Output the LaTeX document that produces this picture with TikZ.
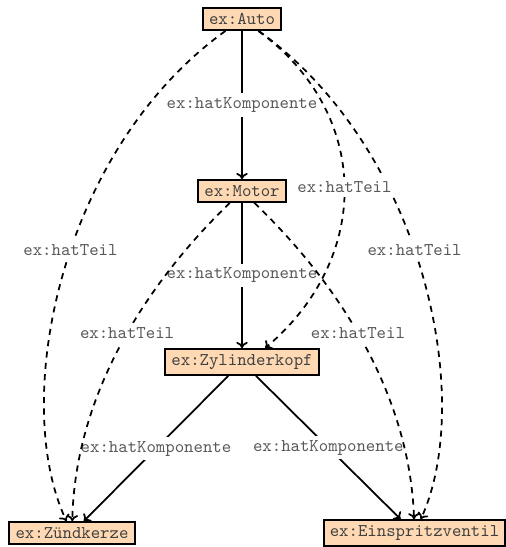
\documentclass[tikz,border=0pt]{standalone}
\usepackage{fontspec}
\usetikzlibrary{arrows.meta}
\definecolor{peach}{RGB}{255,217,179}
\tikzset{
  res/.style={draw, line width=1.2pt, fill=peach, text=black!75, inner xsep=3.5pt, inner ysep=3pt, font=\ttfamily\fontsize{10.2}{11}\selectfont},
  lbl/.style={fill=white, text=black!65, inner xsep=1pt, inner ysep=2.5pt, font=\ttfamily\fontsize{10.2}{11}\selectfont},
  edge/.style={->, line width=1pt},
  teil/.style={edge, dash pattern=on 3.5pt off 3pt},
}

\begin{document}
\begin{tikzpicture}[x=0.02cm,y=-0.02cm,>={To[length=3.5pt,width=6.5pt]}]
        \useasboundingbox (0,0) rectangle (505,547);
        \node[res] (auto) at (242,19) {ex:Auto};
        \node[res] (motor) at (242,191) {ex:Motor};
        \node[res] (zyl) at (242,362) {ex:Zylinderkopf};
        \node[res] (zuend) at (72,533) {ex:Zündkerze};
        \node[res] (einsp) at (414.5,533) {ex:Einspritzventil};
        \draw[edge](auto)--(motor) node[lbl,midway] {ex:hatKomponente};
        \draw[edge](motor)--(zyl) node[lbl,midway] {ex:hatKomponente};
        \draw[edge](zyl)--(zuend) node[lbl,midway] {ex:hatKomponente};
        \draw[edge](zyl)--(einsp) node[lbl,midway] {ex:hatKomponente};
        \draw[teil](auto) .. controls (60,150) and (10,400) .. (zuend) node[lbl,pos=0.455] {ex:hatTeil};
        \draw[teil](auto) .. controls (425,150) and (475,400) .. (einsp) node[lbl,pos=0.455] {ex:hatTeil};
        \draw[teil](auto) .. controls (372,114) and (372,258) .. (zyl.31) node[lbl,midway] {ex:hatTeil};
        \draw[teil](motor) .. controls (140,290) and (75,400) .. (zuend) node[lbl,pos=0.45] {ex:hatTeil};
        \draw[teil](motor) .. controls (345,290) and (410,400) .. (einsp) node[lbl,pos=0.45] {ex:hatTeil};
    \end{tikzpicture}
\end{document}
